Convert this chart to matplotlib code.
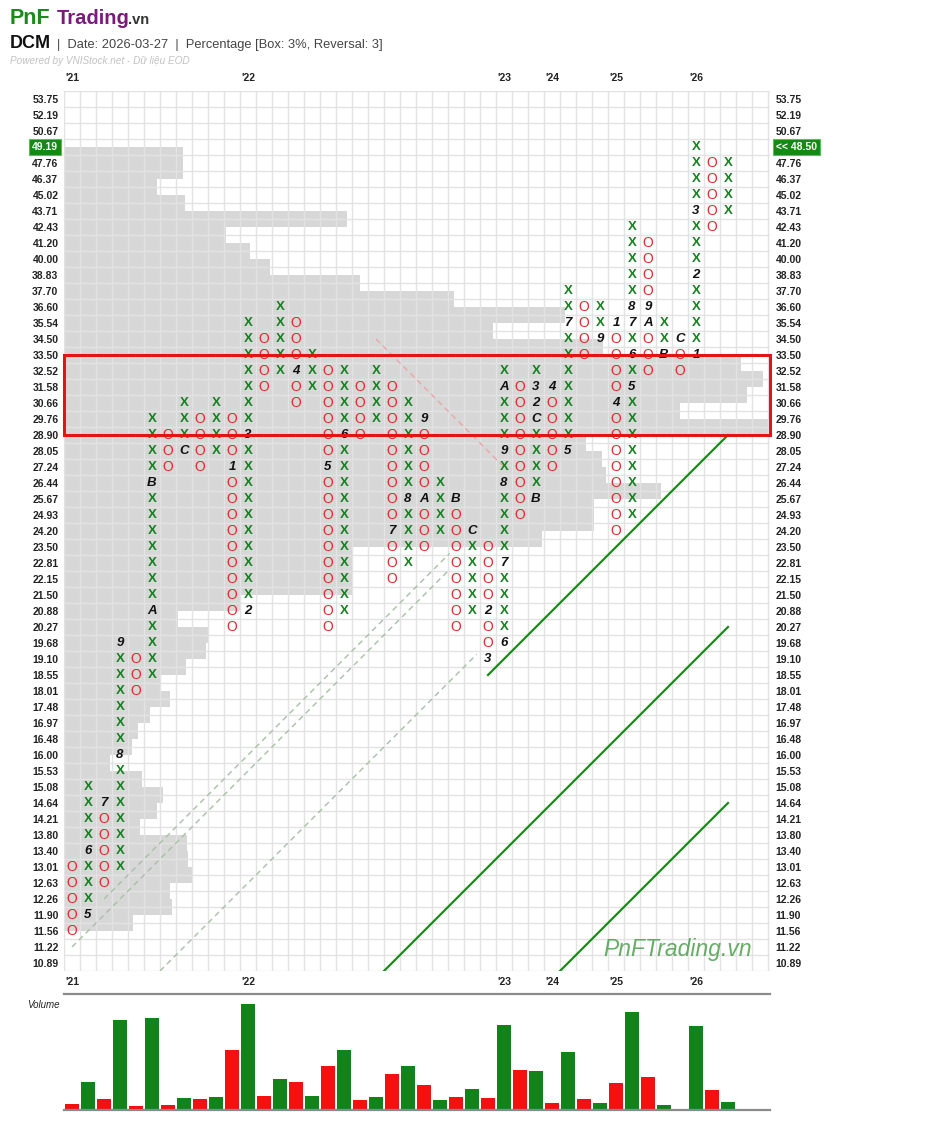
import matplotlib
matplotlib.use("Agg")
import matplotlib.pyplot as plt
from matplotlib.patches import Rectangle
import numpy as np

plt.rcParams['font.family'] = ['Liberation Sans', 'DejaVu Sans']

# box levels of the chart (3% box)
levels = [10.89, 11.22, 11.56, 11.90, 12.26, 12.63, 13.01, 13.40, 13.80, 14.21,
          14.64, 15.08, 15.53, 16.00, 16.48, 16.97, 17.48, 18.01, 18.55, 19.10,
          19.68, 20.27, 20.88, 21.50, 22.15, 22.81, 23.50, 24.20, 24.93, 25.67,
          26.44, 27.24, 28.05, 28.90, 29.76, 30.66, 31.58, 32.52, 33.50, 34.50,
          35.54, 36.60, 37.70, 38.83, 40.00, 41.20, 42.43, 43.71, 45.02, 46.37,
          47.76, 49.19, 50.67, 52.19, 53.75]

# columns: O / X alternating, low and high box of each column
col_kind = "OX" * 21
col_low = [11.56, 11.90, 12.63, 13.01, 18.01, 18.55, 27.24, 28.05, 27.24, 28.05,
           20.27, 20.88, 31.58, 32.52, 30.66, 31.58, 20.27, 20.88, 28.90, 29.76,
           22.15, 22.81, 23.50, 24.20, 20.27, 20.88, 19.10, 19.68, 24.93, 25.67,
           27.24, 28.05, 33.50, 34.50, 24.20, 24.93, 32.52, 33.50, 32.52, 33.50,
           42.43, 43.71]
col_high = [13.01, 15.08, 14.64, 19.68, 19.10, 29.76, 28.90, 30.66, 29.76, 30.66,
            29.76, 35.54, 34.50, 36.60, 35.54, 33.50, 32.52, 32.52, 31.58, 32.52,
            31.58, 30.66, 29.76, 26.44, 25.67, 24.20, 23.50, 32.52, 31.58, 32.52,
            31.58, 37.70, 36.60, 36.60, 35.54, 42.43, 41.20, 35.54, 34.50, 49.19,
            47.76, 47.76]

# month markers (column, price, month code)
month_col = [1, 1, 2, 3, 3, 5, 5, 7, 10, 11, 11, 14, 16, 17, 20, 21, 22, 22,
             24, 25, 26, 26, 27, 27, 27, 27, 27, 29, 29, 29, 29, 30, 31, 31,
             33, 34, 34, 35, 35, 35, 35, 36, 36, 37, 38, 39, 39, 39]
month_price = [11.90, 13.40, 14.64, 16.00, 19.68, 20.88, 26.44, 28.05, 27.24,
               20.88, 28.90, 32.52, 27.24, 28.90, 24.20, 25.67, 29.76, 25.67,
               25.67, 24.20, 20.88, 19.10, 19.68, 22.81, 26.44, 28.05, 31.58,
               25.67, 29.76, 30.66, 31.58, 31.58, 28.05, 35.54, 34.50, 35.54,
               30.66, 31.58, 33.50, 35.54, 36.60, 36.60, 35.54, 33.50, 34.50,
               33.50, 38.83, 43.71]
month_text = ['5', '6', '7', '8', '9', 'A', 'B', 'C', '1', '2', '3', '4', '5', '6',
              '7', '8', '9', 'A', 'B', 'C', '2', '3', '6', '7', '8', '9', 'A',
              'B', 'C', '2', '3', '4', '5', '7', '9', '1', '4', '5', '6', '7',
              '8', '9', 'A', 'B', 'C', '1', '2', '3']

# volume at price profile (bands starting at level index 2), in box-width units
vap = [4.3, 6.75, 6.6, 8.0, 7.75, 7.7, 4.75, 5.8, 6.2, 4.9, 2.9, 4.25, 4.6, 5.4,
       6.6, 6.0, 7.6, 8.9, 9.0, 7.1, 11.0, 18.0, 18.0, 18.0, 29.9, 33.1, 33.1,
       37.3, 33.9, 33.6, 32.6, 44.1, 38.5, 42.7, 43.7, 42.3, 33.7, 26.8, 31.3,
       24.4, 18.5, 12.9, 11.6, 10.1, 17.7, 7.56, 5.81, 7.44, 7.44]

# volume per column
volume = [20, 85, 35, 278, 12, 283, 16, 38, 35, 40, 184, 328, 43, 97, 87, 42,
          135, 184, 31, 40, 110, 136, 76, 30, 41, 65, 37, 263, 123, 121, 21,
          178, 34, 22, 82, 303, 102, 16, 4, 260, 61, 24]

year_col = [0, 11, 27, 30, 34, 39]
year_text = ["'21", "'22", "'23", "'24", "'25", "'26"]

last_price = 48.50
last_box = 49.19

# trend lines: (start col, end col, row offset, slope)
support_solid = [(26.0, 41.0, -8, 1), (19.5, 41.0, -20, 1), (30.5, 41.0, -31, 1)]
support_broken = [(0.0, 23.6, 1, 1), (2.0, 23.6, 2, 1), (5.5, 25.3, -6, 1)]
resist_broken = [(19.0, 27.2, 58, -1)]

W, H = 930, 1130
GREEN = '#13821a'
RED = '#e02828'

row_of = {p: i for i, p in enumerate(levels)}

fig = plt.figure(figsize=(W / 100, H / 100), dpi=100)
ax = fig.add_axes([64 / W, 1 - 971 / H, 706 / W, 880 / H])
ax.set_xlim(-0.5, 43.625)
ax.set_ylim(-0.5, 54.5)
for s in ax.spines.values():
    s.set_visible(False)

# volume at price
bands = np.arange(2, 2 + len(vap)) + 0.5
ax.barh(bands, vap, left=-0.5, height=1.0, color='#d7d7d7', lw=0, zorder=1)

# grid
ax.set_xticks(np.arange(-0.5, 44, 1), minor=True)
ax.set_yticks(np.arange(-0.5, 55, 1), minor=True)
ax.grid(which='minor', color='#e3e3e3', lw=1.0)
ax.set_axisbelow(False)

# year labels (bottom as ticks, top as text)
ax.set_xticks(year_col, year_text)
ax.set_yticks(range(len(levels)),
              ['' if p == last_box else f'{p:.2f}' for p in levels])
ax.tick_params(which='both', length=0)
ax.tick_params(axis='x', labelsize=7.5, pad=4, labelcolor='#222')
for t in ax.get_xticklabels():
    t.set_fontweight('bold')
xtr = ax.get_xaxis_transform()
for c, t in zip(year_col, year_text):
    ax.text(c, 1 + 13 / 880, t, transform=xtr, ha='center', va='center',
            fontsize=7.5, fontweight='bold', color='#222')
ax.tick_params(axis='y', labelleft=True, labelright=True, labelsize=7.5,
               pad=4, labelcolor='#222')
for t in ax.get_yticklabels():
    t.set_fontweight('bold')
for tk in ax.yaxis.get_major_ticks():
    tk.label2.set_fontweight('bold')

# trend lines
for c0, c1, off, k in support_broken:
    xs = np.array([c0, c1])
    ax.plot(xs, k * xs + off, color='#a7bfa7', lw=1.0, ls=(0, (4, 3)), zorder=2.6)
for c0, c1, off, k in resist_broken:
    xs = np.array([c0, c1])
    ax.plot(xs, k * xs + off, color='#eba5a5', lw=1.0, ls=(0, (4, 3)), zorder=2.6)
for c0, c1, off, k in support_solid:
    xs = np.array([c0, c1])
    ax.plot(xs, k * xs + off, color='#1d8a1d', lw=1.6, zorder=2.6)

# X / O columns with month markers
marks = {}
for c, p, m in zip(month_col, month_price, month_text):
    marks[(c, row_of[p])] = m
for c, (kind, lo, hi) in enumerate(zip(col_kind, col_low, col_high)):
    for r in range(row_of[lo], row_of[hi] + 1):
        if (c, r) in marks:
            ax.text(c, r, marks[(c, r)], ha='center', va='center', fontsize=9.5,
                    fontweight='bold', fontstyle='italic', color='#111', zorder=3)
        elif kind == 'X':
            ax.text(c, r, 'X', ha='center', va='center', fontsize=9.5,
                    fontweight='bold', color=GREEN, zorder=3)
        else:
            ax.text(c, r, 'O', ha='center', va='center', fontsize=10,
                    color=RED, zorder=3)

# highlighted box
ax.add_patch(Rectangle((-0.5, 33), 44.125, 5, fill=False, ec='#e31414',
                       lw=2.2, zorder=5, clip_on=False))

# last price tags
ytr = ax.get_yaxis_transform()
ax.text(-0.009, row_of[last_box], f'{last_box:.2f}', transform=ytr, ha='right',
        va='center', fontsize=7.5, fontweight='bold', color='white',
        bbox=dict(boxstyle='square,pad=0.3', fc='#138a13', ec='#55c055', lw=0.8))
ax.text(1.008, row_of[last_box], f'<< {last_price:.2f}', transform=ytr, ha='left',
        va='center', fontsize=7.5, fontweight='bold', color='white',
        bbox=dict(boxstyle='square,pad=0.3', fc='#138a13', ec='#55c055', lw=0.8))

ax.text(0.975, 0.024, 'PnFTrading.vn', transform=ax.transAxes, ha='right',
        va='center', fontsize=16.5, fontstyle='italic', color='#4c9e4c',
        alpha=0.85, zorder=4)

# volume panel
axv = fig.add_axes([64 / W, 1 - 1110 / H, 706 / W, 116 / H])
axv.set_xlim(-0.5, 43.625)
axv.set_ylim(0, 358)
vcol = [GREEN if k == 'X' else '#f50f0f' for k in col_kind]
axv.bar(range(len(volume)), volume, width=0.875, color=vcol, lw=0)
for s in ['left', 'right']:
    axv.spines[s].set_visible(False)
for s in ['top', 'bottom']:
    axv.spines[s].set_color('#8a8a8a')
    axv.spines[s].set_linewidth(1.6)
axv.set_xticks([])
axv.set_yticks([])
fig.text(60 / W, 1 - 1005 / H, 'Volume', ha='right', va='center', fontsize=7,
         fontstyle='italic', color='#222')

# header
fig.text(10 / W, 1 - 24 / H, 'PnF', ha='left', va='baseline', fontsize=15.5,
         fontweight='bold', color='#1a8a1a')
fig.text(57 / W, 1 - 24 / H, 'Trading', ha='left', va='baseline', fontsize=14.5,
         fontweight='bold', color='#7a1a7a')
fig.text(128 / W, 1 - 24 / H, '.vn', ha='left', va='baseline', fontsize=10.5,
         fontweight='bold', color='#333')
fig.text(10 / W, 1 - 48 / H, 'DCM', ha='left', va='baseline', fontsize=13,
         fontweight='bold', color='#111')
fig.text(57 / W, 1 - 48 / H,
         '|  Date: 2026-03-27  |  Percentage [Box: 3%, Reversal: 3]',
         ha='left', va='baseline', fontsize=9.3, color='#444')
fig.text(10 / W, 1 - 61 / H, 'Powered by VNIStock.net - Dữ liệu EOD', ha='left',
         va='center', fontsize=7.2, fontstyle='italic', color='#c2c2c2')

fig.savefig('out.png', dpi=100)
